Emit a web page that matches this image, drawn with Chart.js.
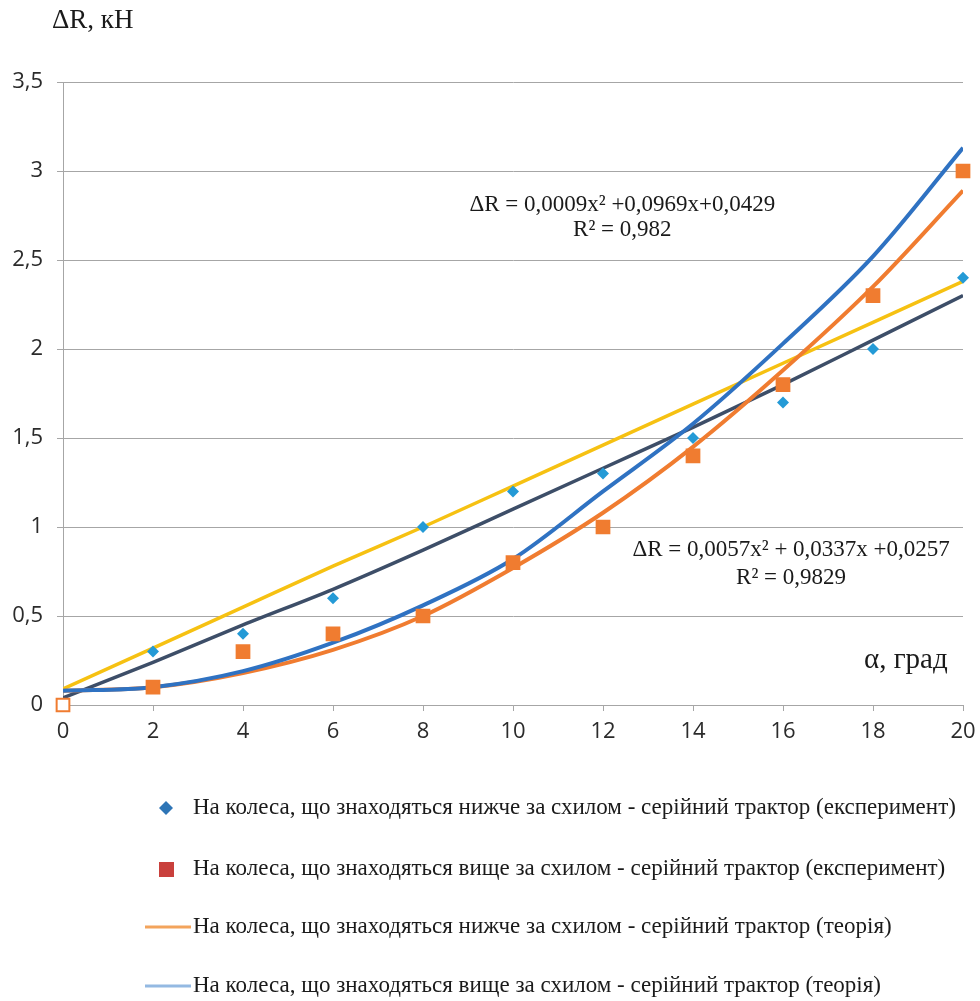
<!DOCTYPE html>
<html>
<head>
<meta charset="utf-8">
<script src="https://cdn.jsdelivr.net/npm/chart.js@4.4.1/dist/chart.umd.min.js"></script>
<style>
    body { margin: 0; background: #fff; }
    canvas { display: block; }
</style>
</head>
<body>
<canvas id="chart" width="980" height="1001"></canvas>
<script>
'use strict';

// angle of slope, degrees
var angles = [0, 2, 4, 6, 8, 10, 12, 14, 16, 18, 20];

// experiment points
var lowerExp = [null, 0.3, 0.4, 0.6, 1.0, 1.2, 1.3, 1.5, 1.7, 2.0, 2.4];
var upperExp = [0, 0.1, 0.3, 0.4, 0.5, 0.8, 1.0, 1.4, 1.8, 2.3, 3.0];

// theory curves (at every angle)
var lowerTheory = [0.08, 0.10, 0.18, 0.31, 0.50, 0.77, 1.08, 1.45, 1.88, 2.35, 2.89];
var upperTheory = [0.08, 0.10, 0.19, 0.35, 0.56, 0.82, 1.20, 1.58, 2.03, 2.52, 3.13];

// trend lines
var linearTrend = [0.09, 0.32, 0.55, 0.78, 1.00, 1.23, 1.46, 1.69, 1.92, 2.15, 2.38];
var polyTrend = [0.04, 0.24, 0.45, 0.65, 0.87, 1.10, 1.33, 1.56, 1.80, 2.05, 2.30];

var seriesLabels = [
    'На колеса, що знаходяться нижче за схилом - серійний трактор (експеримент)',
    'На колеса, що знаходяться вище за схилом - серійний трактор (експеримент)',
    'На колеса, що знаходяться нижче за схилом - серійний трактор (теорія)',
    'На колеса, що знаходяться вище за схилом - серійний трактор (теорія)'
];

var yTitle = 'ΔR, кН';
var xTitle = 'α, град';
var equation1 = ['ΔR = 0,0009x² +0,0969x+0,0429', 'R² = 0,982'];
var equation2 = ['ΔR = 0,0057x² + 0,0337x +0,0257', 'R² = 0,9829'];

var toPoints = function (values) {
    var points = [];
    for (var i = 0; i < angles.length; i++) {
        if (values[i] !== null) {
            points.push({ x: angles[i], y: values[i] });
        }
    }
    return points;
};

var gridColor = '#a6a6a6';
var serif = '"Liberation Serif", "Times New Roman", serif';

var legendItems = [
    { type: 'diamond', color: '#2e75b6' },
    { type: 'square', color: '#c9403c' },
    { type: 'line', color: '#f3a45c' },
    { type: 'line', color: '#94b9e2' }
];

// equations, axis names and the legend drawn straight on the canvas
var textPlugin = {
    id: 'chartTexts',
    afterDraw: function (chart) {
        var ctx = chart.ctx;
        var xs = chart.scales.x;
        var ys = chart.scales.y;

        ctx.save();
        ctx.fillStyle = '#1a1a1a';
        ctx.textBaseline = 'middle';

        ctx.textAlign = 'left';
        ctx.font = '27px ' + serif;
        ctx.fillText(yTitle, 52, 21);
        ctx.font = '29px ' + serif;
        ctx.fillText(xTitle, 864, 660);

        ctx.font = '23px ' + serif;
        ctx.textAlign = 'center';
        var e1x = xs.getPixelForValue(12.43);
        ctx.fillText(equation1[0], e1x, ys.getPixelForValue(2.81));
        ctx.fillText(equation1[1], e1x, ys.getPixelForValue(2.67));
        var e2x = xs.getPixelForValue(16.18);
        ctx.fillText(equation2[0], e2x, ys.getPixelForValue(0.87));
        ctx.fillText(equation2[1], e2x, ys.getPixelForValue(0.715));

        // legend
        var rows = [808, 869, 927, 986];
        ctx.font = '23px ' + serif;
        ctx.textAlign = 'left';
        for (var i = 0; i < legendItems.length; i++) {
            var item = legendItems[i];
            var cy = rows[i];
            ctx.fillStyle = item.color;
            ctx.strokeStyle = item.color;
            if (item.type === 'diamond') {
                ctx.beginPath();
                ctx.moveTo(166, cy - 7);
                ctx.lineTo(173, cy);
                ctx.lineTo(166, cy + 7);
                ctx.lineTo(159, cy);
                ctx.closePath();
                ctx.fill();
            } else if (item.type === 'square') {
                ctx.fillRect(159, cy - 7, 15, 15);
            } else {
                ctx.lineWidth = 3;
                ctx.beginPath();
                ctx.moveTo(145, cy);
                ctx.lineTo(191, cy);
                ctx.stroke();
            }
            ctx.fillStyle = '#1a1a1a';
            ctx.fillText(seriesLabels[i], 193, cy);
        }
        ctx.restore();
    }
};

var ctx = document.getElementById('chart').getContext('2d');

var chart = new Chart(ctx, {
    type: 'scatter',
    data: {
        datasets: [
            {
                label: seriesLabels[0],
                data: toPoints(lowerExp),
                pointStyle: 'rectRot',
                pointRadius: 6,
                backgroundColor: '#249ad6',
                borderColor: '#249ad6',
                borderWidth: 0,
                clip: false
            },
            {
                label: seriesLabels[1],
                data: toPoints(upperExp),
                pointStyle: 'rect',
                pointRadius: 9,
                pointBackgroundColor: function (c) {
                    return c.dataIndex === 0 ? '#ffffff' : '#f07c30';
                },
                borderColor: '#f07c30',
                borderWidth: 2,
                clip: false
            },
            {
                label: seriesLabels[3],
                data: toPoints(upperTheory),
                showLine: true,
                pointRadius: 0,
                borderColor: '#2f72c2',
                borderWidth: 4,
                cubicInterpolationMode: 'monotone'
            },
            {
                label: seriesLabels[2],
                data: toPoints(lowerTheory),
                showLine: true,
                pointRadius: 0,
                borderColor: '#f07c30',
                borderWidth: 4,
                cubicInterpolationMode: 'monotone'
            },
            {
                label: 'linear trend',
                data: toPoints(linearTrend),
                showLine: true,
                pointRadius: 0,
                borderColor: '#f6c112',
                borderWidth: 3.5,
                cubicInterpolationMode: 'monotone'
            },
            {
                label: 'polynomial trend',
                data: toPoints(polyTrend),
                showLine: true,
                pointRadius: 0,
                borderColor: '#3d4e68',
                borderWidth: 3.5,
                cubicInterpolationMode: 'monotone'
            }
        ]
    },
    options: {
        responsive: false,
        animation: false,
        layout: { padding: { left: 0, right: 17, top: 82, bottom: 256 } },
        plugins: {
            legend: { display: false },
            tooltip: { enabled: false }
        },
        scales: {
            x: {
                type: 'linear',
                min: 0,
                max: 20,
                afterFit: function (scale) {
                    scale.height = 40;
                    // let "20" hang over the edge like in the original
                    scale.paddingLeft = 0;
                    scale.paddingRight = 0;
                },
                ticks: {
                    stepSize: 2,
                    padding: 8,
                    color: '#2b2b2b',
                    font: { family: '"Open Sans"', size: 22 }
                },
                grid: {
                    drawOnChartArea: false,
                    color: gridColor,
                    tickLength: 6
                },
                border: { color: gridColor }
            },
            y: {
                min: 0,
                max: 3.5,
                afterFit: function (scale) { scale.width = 63; },
                ticks: {
                    stepSize: 0.5,
                    padding: 14,
                    color: '#2b2b2b',
                    font: { family: '"Open Sans"', size: 22 },
                    callback: function (value) {
                        return String(value).replace('.', ',');
                    }
                },
                grid: {
                    color: gridColor,
                    tickLength: 6
                },
                border: { color: gridColor }
            }
        }
    },
    plugins: [textPlugin]
});
</script>
</body>
</html>
